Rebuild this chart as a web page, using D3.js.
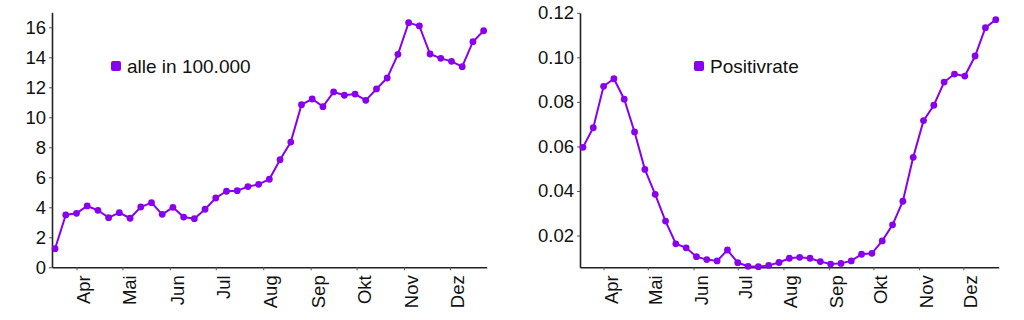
<!DOCTYPE html>
<html><head><meta charset="utf-8">
<script src="https://cdn.jsdelivr.net/npm/d3@7"></script>
<style>
body{margin:0;background:#fff;}
svg text{font-family:"Liberation Sans",Arial,Helvetica,sans-serif;fill:#111;}
</style></head>
<body><svg id="c" width="1024" height="320"></svg>
<script>
// Data: weekly points starting 2020-03-18
const startDate = "2020-03-18";
const monthLabels = ["Apr","Mai","Jun","Jul","Aug","Sep","Okt","Nov","Dez"];
const seriesLeftName = "alle in 100.000";
const seriesLeft = [1.24,3.49,3.6,4.09,3.8,3.31,3.64,3.27,4.02,4.31,3.53,4.0,3.35,3.24,3.87,4.62,5.07,5.11,5.38,5.53,5.87,7.17,8.35,10.84,11.22,10.71,11.69,11.47,11.55,11.13,11.89,12.62,14.2,16.31,16.09,14.22,13.93,13.73,13.37,15.04,15.77];
const seriesRightName = "Positivrate";
const seriesRight = [0.0596,0.0684,0.0870,0.0904,0.0812,0.0665,0.0497,0.0385,0.0265,0.0163,0.0145,0.0105,0.0092,0.0086,0.0135,0.0078,0.0062,0.0060,0.0066,0.0079,0.0098,0.0102,0.0098,0.0083,0.0072,0.0075,0.0086,0.0116,0.0120,0.0176,0.0248,0.0354,0.0551,0.0716,0.0785,0.0889,0.0925,0.0916,0.1006,0.1133,0.1169];
const leftTicks = [0,2,4,6,8,10,12,14,16];
const rightTicks = [0.02,0.04,0.06,0.08,0.10,0.12];

const color = "#8800ee";
const svg = d3.select("#c");
const t0 = new Date(startDate + "T00:00:00");
const dates = seriesLeft.map((_, i) => d3.timeDay.offset(t0, 7*i));
const xDomain = [d3.timeDay.offset(dates[0], -2), d3.timeDay.offset(dates[dates.length-1], 2)];
const monthTicks = monthLabels.map((_, i) => new Date(2020, 3 + i, 1));

function panel(opt){
  const g = svg.append("g");
  const x = d3.scaleTime().domain(xDomain).range([opt.x0, opt.x1]);
  const y = d3.scaleLinear().domain(opt.yDomain).range([opt.yb, opt.yt]);
  const ax = g.append("g").attr("transform", `translate(0,${opt.yb})`)
    .call(d3.axisBottom(x).tickValues(monthTicks).tickFormat((d,i)=>monthLabels[i]).tickSize(3).tickSizeOuter(0));
  ax.selectAll("text").attr("transform","rotate(-90)").attr("text-anchor","end")
    .attr("x",-8).attr("y",7).attr("dy","0.35em").attr("dx",0)
    .style("font-size","18.5px");
  const ay = g.append("g").attr("transform", `translate(${opt.x0},0)`)
    .call(d3.axisLeft(y).tickValues(opt.ticks).tickFormat(opt.fmt).tickSize(3).tickSizeOuter(0).tickPadding(3));
  ay.selectAll("text").style("font-size","18.5px");
  [ax, ay].forEach(a => {
    a.select(".domain").attr("stroke","#222").attr("stroke-width",1.6);
    a.selectAll(".tick line").attr("stroke","#555");
    a.selectAll("text").style("fill","#111").style("font-family","'Liberation Sans',Arial,sans-serif");
  });
  const line = d3.line().x((d,i)=>x(dates[i])).y(d=>y(d));
  g.append("path").datum(opt.data).attr("d", line).attr("fill","none")
    .attr("stroke", color).attr("stroke-width", 2);
  g.selectAll("circle.p").data(opt.data).enter().append("circle")
    .attr("cx",(d,i)=>x(dates[i])).attr("cy",d=>y(d)).attr("r",3.4).attr("fill",color);
  g.append("rect").attr("x", opt.lx).attr("y", opt.ly - 5).attr("width",10).attr("height",10)
    .attr("rx",2).attr("fill", color);
  g.append("text").attr("x", opt.lx + 16).attr("y", opt.ly).attr("dy","0.35em")
    .style("font-size","19px").text(opt.name);
}

panel({x0:52, x1:486.7, yb:267.3, yt:12.3, yDomain:[0,17], ticks:leftTicks,
  fmt:d3.format("d"), data:seriesLeft, name:seriesLeftName, lx:111, ly:66});
panel({x0:580, x1:998.7, yb:267.3, yt:12.8, yDomain:[0.00574,0.12], ticks:rightTicks,
  fmt:d3.format(".2f"), data:seriesRight, name:seriesRightName, lx:694, ly:66});
</script></body></html>
